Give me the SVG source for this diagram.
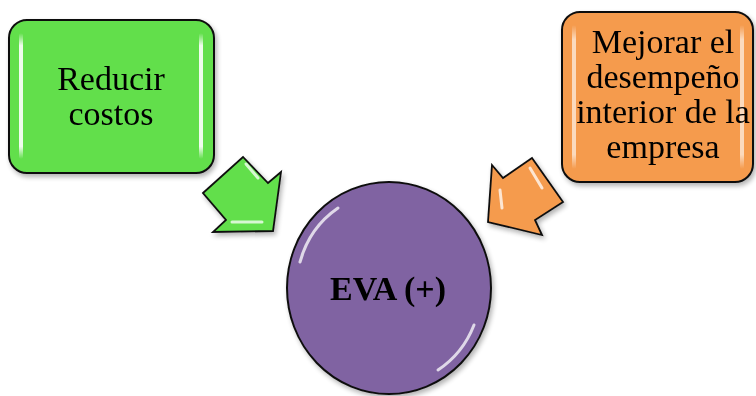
<svg xmlns="http://www.w3.org/2000/svg" width="756" height="396" viewBox="0 0 756 396">
  <defs>
    <filter id="sh" x="-20%" y="-20%" width="140%" height="140%">
      <feGaussianBlur in="SourceAlpha" stdDeviation="2.5"/>
      <feOffset dx="2" dy="3" result="b"/>
      <feComponentTransfer><feFuncA type="linear" slope="0.3"/></feComponentTransfer>
      <feMerge><feMergeNode/><feMergeNode in="SourceGraphic"/></feMerge>
    </filter>
    <linearGradient id="vbar" x1="0" y1="0" x2="0" y2="1">
      <stop offset="0" stop-color="#fff" stop-opacity="0"/>
      <stop offset="0.1" stop-color="#fff" stop-opacity="0.9"/>
      <stop offset="0.9" stop-color="#fff" stop-opacity="0.9"/>
      <stop offset="1" stop-color="#fff" stop-opacity="0"/>
    </linearGradient>
  </defs>
  <style>
    .box { stroke: #111; stroke-width: 2; }
    .green { fill: #62DF4C; }
    .orange { fill: #F59B4E; }
    .purple { fill: #8064A2; }
    .hl { fill: url(#vbar); }
    .t { font-family: "Liberation Serif", "Times New Roman", serif; font-size: 34px; fill: #000; text-anchor: middle; }
    .tb { font-family: "Liberation Serif", "Times New Roman", serif; font-size: 34px; font-weight: bold; fill: #000; text-anchor: middle; }
    .arrow { stroke: #111; stroke-width: 1.8; stroke-linejoin: miter; }
    .shine { fill: none; stroke: #fff; stroke-opacity: 0.75; stroke-width: 3; stroke-linecap: round; }
  </style>

  <g id="reducir-costos" filter="url(#sh)">
    <rect class="box green" x="9" y="20" width="205" height="153" rx="18" ry="18"/>
    <rect class="hl" x="19" y="33" width="4" height="126" rx="2"/>
    <rect class="hl" x="199" y="33" width="4" height="126" rx="2"/>
    <text class="t" x="111" y="90">Reducir</text>
    <text class="t" x="111" y="125">costos</text>
  </g>

  <g id="mejorar" filter="url(#sh)">
    <rect class="box orange" x="562" y="12" width="191" height="170" rx="18" ry="18"/>
    <rect class="hl" x="572" y="25" width="4" height="144" rx="2" opacity="0.7"/>
    <rect class="hl" x="740" y="25" width="4" height="144" rx="2" opacity="0.7"/>
    <text class="t" x="663" y="53">Mejorar el</text>
    <text class="t" x="663" y="88">desempeño</text>
    <text class="t" x="663" y="123">interior de la</text>
    <text class="t" x="663" y="158">empresa</text>
  </g>

  <g id="eva" filter="url(#sh)">
    <ellipse class="box purple" cx="389" cy="288" rx="102" ry="106"/>
    <path class="shine" d="M 300 262 A 92 96 0 0 1 338 208" stroke-opacity="0.55"/>
    <path class="shine" d="M 474 325 A 92 96 0 0 1 438 370" stroke-opacity="0.6"/>
    <text class="tb" x="388" y="300">EVA (+)</text>
  </g>

  <g id="connectors">
    <g id="arrow-green" filter="url(#sh)">
      <polygon class="arrow green" points="203,193 243,157 268,183 281,172 273,231 213,232 226,220"/>
      <path class="shine" d="M 246 164 L 258 178" stroke-width="2.5"/>
      <path class="shine" d="M 232 222 L 262 222" stroke-width="2.5"/>
    </g>
    <g id="arrow-orange" filter="url(#sh)">
      <polygon class="arrow orange" points="492,165 503,178 532,158 563,202 535,220 542,235 488,222"/>
      <path class="shine" d="M 530 168 L 542 188" stroke-width="2.5"/>
      <path class="shine" d="M 500 190 L 502 208" stroke-width="2.5"/>
    </g>
  </g>
</svg>
